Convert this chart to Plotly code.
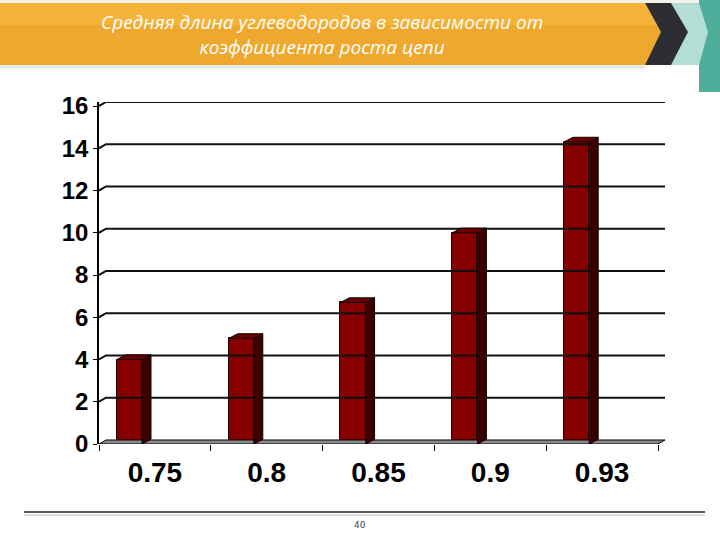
import plotly.graph_objects as go

# ---- data ----
categories = ["0.75", "0.8", "0.85", "0.9", "0.93"]
values = [4.0, 5.0, 6.7, 10.0, 14.3]
y_ticks = [0, 2, 4, 6, 8, 10, 12, 14, 16]
title_text = "Средняя длина углеводородов в зависимости от<br>коэффициента роста цепи"
page_number = "40"

W, H = 720, 540
def px(x):
    return x / W
def py(y):
    return 1 - y / H

# 3D look parameters (in axis units)
wall_dx, wall_dy = 0.0625, 0.19
bar_dx, bar_dy = 0.08, 0.22
bar_offset, bar_width = -0.34, 0.225

xs = list(range(len(categories)))
x_lo, x_hi = -0.5, len(categories) - 0.5

fig = go.Figure()

# floor
fig.add_trace(go.Scatter(
    x=[x_lo, x_hi, x_hi + wall_dx, x_lo + wall_dx, x_lo],
    y=[0, 0, wall_dy, wall_dy, 0],
    fill="toself", fillcolor="#8a8a8a", mode="lines",
    line=dict(color="black", width=1), hoverinfo="skip", showlegend=False))

# back-wall gridlines with connectors
for v in y_ticks[1:]:
    fig.add_trace(go.Scatter(
        x=[x_lo, x_lo + wall_dx, x_hi + wall_dx],
        y=[v, v + wall_dy, v + wall_dy],
        mode="lines", line=dict(color="#111111", width=2),
        hoverinfo="skip", showlegend=False))

# bars: front faces
fig.add_trace(go.Bar(
    x=xs, y=values, offset=bar_offset, width=bar_width,
    marker=dict(color="#870000", line=dict(color="#1a0000", width=1)),
    showlegend=False, hoverinfo="skip"))

# bars: side and top faces
for xi, v in zip(xs, values):
    xl = xi + bar_offset
    xr = xl + bar_width
    fig.add_trace(go.Scatter(
        x=[xr, xr + bar_dx, xr + bar_dx, xr, xr],
        y=[0, bar_dy, v + bar_dy, v, 0],
        fill="toself", fillcolor="#3a0000", mode="lines",
        line=dict(color="#100000", width=1), hoverinfo="skip", showlegend=False))
    fig.add_trace(go.Scatter(
        x=[xl, xr, xr + bar_dx, xl + bar_dx, xl],
        y=[v, v, v + bar_dy, v + bar_dy, v],
        fill="toself", fillcolor="#6a0000", mode="lines",
        line=dict(color="#100000", width=1), hoverinfo="skip", showlegend=False))

fig.update_layout(
    width=W, height=H,
    margin=dict(l=0, r=0, t=0, b=0, pad=0),
    paper_bgcolor="white", plot_bgcolor="white",
    bargap=0,
    xaxis=dict(
        domain=[px(99), px(665)],
        range=[x_lo, x_hi + wall_dx],
        automargin=False,
        tickvals=xs, ticktext=categories,
        ticks="", showgrid=False, zeroline=False, showline=False,
        tickfont=dict(family="Liberation Sans, Arial", size=28, color="black", weight="bold"),
        ticklabelstandoff=9,
        minor=dict(tickvals=[x - 0.5 for x in xs] + [x_hi], ticks="outside",
                   ticklen=6, tickcolor="black", tickwidth=1, showgrid=False),
    ),
    yaxis=dict(
        domain=[py(444), py(102)],
        range=[0, y_ticks[-1] + wall_dy],
        automargin=False,
        tickvals=y_ticks, ticktext=[str(t) for t in y_ticks],
        ticks="outside", ticklen=4, tickcolor="black",
        showgrid=False, zeroline=False,
        showline=True, linecolor="black", linewidth=1.5,
        tickfont=dict(family="Liberation Sans, Arial", size=24, color="black", weight="bold"),
    ),
    shapes=[
        # light strip above banner
        dict(type="rect", xref="paper", yref="paper", x0=px(0), x1=px(699), y0=py(4), y1=py(0),
             fillcolor="#f3f1ea", line=dict(width=0), layer="above"),
        # teal strip at right
        dict(type="rect", xref="paper", yref="paper", x0=px(699), x1=px(720), y0=py(92), y1=py(0),
             fillcolor="#4fae9b", line=dict(width=0), layer="above"),
        # light chevron
        dict(type="path", xref="paper", yref="paper",
             path=f"M {px(660)},{py(3)} L {px(699)},{py(3)} L {px(708)},{py(32)} L {px(699)},{py(65)} L {px(660)},{py(65)} Z",
             fillcolor="#b4ddd5", line=dict(width=0), layer="above"),
        # dark chevron
        dict(type="path", xref="paper", yref="paper",
             path=f"M {px(630)},{py(3)} L {px(671)},{py(3)} L {px(688)},{py(32)} L {px(671)},{py(65)} L {px(630)},{py(65)} Z",
             fillcolor="#2c2e33", line=dict(width=0), layer="above"),
        # orange banner
        dict(type="path", xref="paper", yref="paper",
             path=f"M {px(0)},{py(3)} L {px(645)},{py(3)} L {px(661)},{py(32)} L {px(645)},{py(65)} L {px(0)},{py(65)} Z",
             fillcolor="#efa82e", line=dict(width=0), layer="above"),
        dict(type="path", xref="paper", yref="paper",
             path=f"M {px(0)},{py(3)} L {px(645)},{py(3)} L {px(657)},{py(25)} L {px(0)},{py(25)} Z",
             fillcolor="#f6b940", opacity=0.6, line=dict(width=0), layer="above"),
        # banner shadow
        dict(type="line", xref="paper", yref="paper", x0=px(0), x1=px(645), y0=py(67), y1=py(67),
             line=dict(color="#e4e4e4", width=3), layer="above"),
        # bottom rule
        dict(type="line", xref="paper", yref="paper", x0=px(24), x1=px(705), y0=py(512), y1=py(512),
             line=dict(color="#222222", width=1.5), layer="above"),
        dict(type="line", xref="paper", yref="paper", x0=px(24), x1=px(705), y0=py(515), y1=py(515),
             line=dict(color="#dddddd", width=2), layer="above"),
    ],
    annotations=[
        dict(text=title_text, xref="paper", yref="paper", x=px(322), y=py(34),
             xanchor="center", yanchor="middle", showarrow=False, align="center",
             font=dict(family="Open Sans", size=19, color="white", style="italic")),
        dict(text=page_number, xref="paper", yref="paper", x=px(360), y=py(525),
             xanchor="center", yanchor="middle", showarrow=False,
             font=dict(family="DejaVu Sans", size=9, color="#444444")),
    ],
)

fig.write_html(
    "out.html",
    config={"displayModeBar": False},
    post_script="document.body.style.margin='0';document.body.style.overflow='hidden';",
)
